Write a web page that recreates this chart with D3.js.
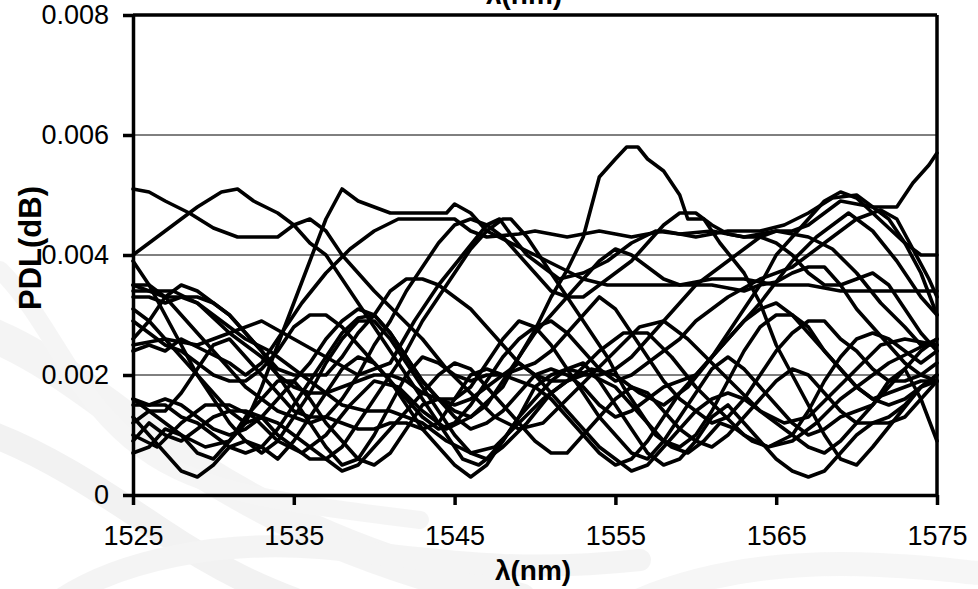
<!DOCTYPE html>
<html>
<head>
<meta charset="utf-8">
<script src="https://cdn.jsdelivr.net/npm/d3@7"></script>
<style>
  html, body { margin: 0; padding: 0; background: #fff; }
  svg { display: block; }
  text { font-family: "Liberation Sans", Arial, sans-serif; fill: #000; }
</style>
</head>
<body>
<svg id="chart" width="978" height="589"></svg>
<script>
// ---------- data ----------
const xTicks = [1525, 1535, 1545, 1555, 1565, 1575];
const yTicks = [0, 0.002, 0.004, 0.006, 0.008];
const yTickLabels = ["0", "0.002", "0.004", "0.006", "0.008"];
const xTitle = "λ(nm)";
const yTitle = "PDL(dB)";

// each series: [wavelength nm, PDL dB]
const s01 = [[1525,0.0051],[1526,0.00505],[1527,0.0049],[1528.5,0.0047],[1530,0.00445],[1531.5,0.0043],[1534,0.0043],[1535,0.0045],[1536,0.0046],[1537,0.0044],[1538,0.0040],[1539,0.0037],[1540,0.0034],[1541.5,0.0030],[1543,0.0026],[1544.5,0.0021],[1546,0.0017],[1547.5,0.0013],[1549,0.0011],[1550.5,0.0012],[1552,0.0016],[1553.5,0.0020],[1555,0.0024],[1556.5,0.0028],[1558,0.0029],[1559.5,0.0026],[1561,0.0022],[1562.5,0.0018],[1564,0.0014],[1565.5,0.0012],[1567,0.0013],[1568.5,0.0017],[1570,0.0021],[1571.5,0.0025],[1573,0.0026],[1575,0.0025]];
const s02 = [[1525,0.0040],[1526,0.0042],[1527.5,0.0045],[1529,0.0048],[1530.5,0.00505],[1531.5,0.0051],[1532.5,0.0049],[1534,0.0047],[1535,0.0045],[1536,0.0042],[1537,0.0040],[1538,0.0036],[1539,0.0032],[1540,0.0028],[1541.5,0.0022],[1543,0.0016],[1544.5,0.0010],[1545.5,0.0006],[1546.5,0.0005],[1548,0.0008],[1549.5,0.0012],[1551,0.0017],[1552.5,0.0020],[1554,0.0024],[1555.5,0.0027],[1557,0.0027],[1558.5,0.0023],[1560,0.0018],[1561.5,0.0014],[1563,0.0010],[1564.5,0.0008],[1566,0.0009],[1567.5,0.0012],[1569,0.0016],[1570.5,0.0019],[1572,0.0022],[1573.5,0.0024],[1575,0.0026]];
const s03 = [[1525,0.0016],[1526.5,0.0013],[1528,0.0010],[1529.5,0.0008],[1531,0.0009],[1532,0.0012],[1533,0.0018],[1534,0.0025],[1535,0.0032],[1536,0.0039],[1537,0.0046],[1538,0.0051],[1539,0.0049],[1540,0.0048],[1541,0.0047],[1544.5,0.0047],[1545,0.00485],[1546,0.0047],[1547,0.0044],[1548.5,0.0042],[1550,0.0040],[1551.5,0.0038],[1553,0.0036],[1554.5,0.0035],[1557,0.0035],[1559,0.0035],[1561,0.0036],[1563,0.0036],[1565,0.0035],[1567,0.0035],[1569,0.0034],[1571,0.0034],[1573,0.0034],[1575,0.0034]];
const s04 = [[1525,0.0024],[1526,0.0025],[1527,0.0024],[1528,0.0026],[1529.5,0.0024],[1531,0.0022],[1532,0.0020],[1533,0.0022],[1534,0.0026],[1535.5,0.0032],[1537,0.0037],[1538.5,0.0041],[1540,0.0044],[1541.5,0.0046],[1545,0.0046],[1546,0.0044],[1547,0.0043],[1549,0.00435],[1550,0.0044],[1552,0.0043],[1554,0.0044],[1556,0.0043],[1558,0.0044],[1560,0.0043],[1562,0.0044],[1564,0.0044],[1565.5,0.0045],[1567,0.0047],[1568.5,0.00495],[1570,0.0050],[1571,0.0048],[1572.5,0.0048],[1573.5,0.0052],[1574.5,0.0055],[1575,0.0057]];
const s05 = [[1525,0.0010],[1526.5,0.0008],[1528,0.0012],[1529.5,0.0015],[1531,0.0015],[1532.5,0.0013],[1534,0.0009],[1535.5,0.0007],[1537,0.0010],[1538.5,0.0015],[1540,0.0019],[1541.5,0.0018],[1543,0.0014],[1544.5,0.0011],[1546,0.0013],[1548,0.0018],[1549,0.0023],[1550,0.00275],[1551,0.0033],[1552,0.00375],[1553,0.0043],[1554,0.0053],[1555,0.0056],[1555.7,0.0058],[1556.4,0.0058],[1557,0.0056],[1558,0.0054],[1559,0.0050],[1559.5,0.0046],[1560.5,0.0046],[1561.5,0.0042],[1563,0.0037],[1564,0.0032],[1565,0.0025],[1566,0.0020],[1567,0.0015],[1568,0.0010],[1569,0.0006],[1570,0.0005],[1571,0.0008],[1572.5,0.0013],[1574,0.0018],[1575,0.0020]];
const s06 = [[1525,0.0035],[1526,0.0034],[1527.5,0.0034],[1529,0.0032],[1530.5,0.0029],[1532,0.0026],[1533.5,0.0024],[1535,0.0021],[1536.5,0.0018],[1538,0.0015],[1539.5,0.0014],[1541,0.0014],[1543,0.0012],[1544.5,0.0009],[1546,0.0007],[1547.5,0.0008],[1549,0.0012],[1550.5,0.0016],[1552,0.0019],[1553.5,0.0021],[1555,0.0020],[1556.5,0.0017],[1558,0.0015],[1559.5,0.0018],[1561,0.0023],[1562.5,0.0029],[1564,0.0035],[1565,0.0040],[1566,0.0043],[1567,0.0046],[1568,0.0049],[1569,0.00505],[1570,0.00495],[1571,0.0047],[1572,0.00445],[1573,0.0042],[1574,0.0040],[1575,0.0040]];
const s07 = [[1525,0.0031],[1526,0.0029],[1527,0.0026],[1528,0.0023],[1529,0.0020],[1530,0.0017],[1531,0.0014],[1532,0.0012],[1533,0.0013],[1534,0.0016],[1535,0.0019],[1536,0.0022],[1537,0.0026],[1538,0.0029],[1539,0.0031],[1540,0.0030],[1541,0.0027],[1542,0.0023],[1543,0.0019],[1544,0.0016],[1545,0.0013],[1546,0.0011],[1547,0.0012],[1548,0.0014],[1549,0.0017],[1550,0.0020],[1551,0.0021],[1552,0.0020],[1553,0.0018],[1554,0.0015],[1555,0.0013],[1556,0.0014],[1557,0.0016],[1558,0.0018],[1560,0.0020],[1562,0.0026],[1564,0.0032],[1566,0.0039],[1567.5,0.0043],[1569.5,0.0047],[1571,0.0044],[1572.5,0.0039],[1574,0.0033],[1575,0.0030]];
const s08 = [[1525,0.0029],[1526,0.0027],[1527,0.0025],[1528,0.0024],[1529,0.0022],[1530,0.0020],[1531,0.0019],[1532,0.0019],[1533,0.0021],[1534,0.0024],[1535,0.0028],[1536,0.0030],[1537,0.0030],[1538,0.0028],[1539,0.0025],[1540,0.0022],[1541,0.0019],[1542,0.0016],[1543,0.0013],[1544,0.0011],[1545,0.0012],[1546,0.0015],[1547,0.0019],[1548,0.0023],[1549,0.0026],[1550,0.0028],[1551,0.0029],[1552,0.0027],[1553,0.0024],[1554,0.0021],[1555,0.0019],[1556,0.0020],[1557,0.0022],[1558,0.0024],[1559,0.0026],[1560,0.0029],[1562,0.0033],[1564,0.0036],[1566,0.0038],[1568,0.0042],[1570,0.0046],[1571.5,0.00475],[1572.5,0.0046],[1573.5,0.0041],[1574.5,0.0036],[1575,0.0033]];
const s09 = [[1525,0.0039],[1526,0.0035],[1527,0.0030],[1528,0.0025],[1529,0.0020],[1530,0.0016],[1531,0.0012],[1532,0.0009],[1533,0.0007],[1534,0.0009],[1535,0.0013],[1536,0.0017],[1537,0.0022],[1538,0.0026],[1539,0.0029],[1540,0.0029],[1541,0.0026],[1542,0.0022],[1543,0.0018],[1544,0.0014],[1545,0.0010],[1546,0.0007],[1547,0.0006],[1548,0.0009],[1549,0.0013],[1550,0.0018],[1551,0.0020],[1552,0.0021],[1553.5,0.0020],[1555,0.0018],[1556,0.0015],[1557,0.0012],[1558,0.0009],[1559,0.0008],[1560,0.0010],[1561,0.0014],[1562,0.0019],[1563,0.0024],[1564,0.0028],[1565,0.0030],[1566,0.0030],[1567,0.0028],[1568,0.0024],[1569,0.0021],[1570,0.0018],[1571,0.0016],[1572,0.0015],[1573,0.0016],[1574,0.0018],[1575,0.0019]];
const s10 = [[1525,0.0033],[1526,0.0033],[1527,0.0032],[1528,0.0033],[1529,0.0032],[1530,0.00295],[1531,0.0027],[1532,0.0025],[1533,0.0023],[1534,0.0020],[1535,0.0018],[1536,0.0017],[1537,0.0017],[1538,0.0018],[1539,0.0019],[1540,0.0020],[1541,0.0020],[1542,0.0019],[1543,0.0017],[1544,0.0016],[1545,0.0015],[1546,0.0016],[1547,0.0018],[1548,0.0020],[1549,0.0022],[1550,0.0020],[1551,0.0017],[1552,0.0014],[1553,0.0011],[1554,0.0008],[1555,0.0006],[1556,0.0004],[1557,0.0005],[1558,0.0008],[1559,0.0011],[1560,0.0014],[1561,0.0016],[1562,0.0017],[1563,0.0016],[1564,0.0014],[1565,0.0012],[1566,0.0010],[1567,0.0008],[1568,0.0007],[1569,0.0009],[1570,0.0012],[1571,0.0015],[1572,0.0018],[1573,0.0021],[1574,0.0024],[1575,0.0026]];
const s11 = [[1525,0.0009],[1526,0.0012],[1527,0.0010],[1528,0.0009],[1529,0.0011],[1530,0.0013],[1531,0.0014],[1532,0.0014],[1533,0.0013],[1534,0.0010],[1535,0.0008],[1536,0.0006],[1537,0.0006],[1538,0.0008],[1539,0.0012],[1540,0.0016],[1541,0.0020],[1542,0.0024],[1543,0.0029],[1544,0.0033],[1545,0.0037],[1546,0.0041],[1547,0.0044],[1548,0.0046],[1548.5,0.0046],[1549.5,0.0043],[1550.5,0.0039],[1551.5,0.0035],[1552.5,0.0031],[1553.5,0.0027],[1554.5,0.0023],[1555.5,0.0018],[1556.5,0.0014],[1557.5,0.0010],[1558.5,0.0008],[1559.5,0.0007],[1560.5,0.0009],[1561.5,0.0012],[1562.5,0.0011],[1563.5,0.0009],[1564.5,0.0008],[1566,0.0010],[1567,0.0014],[1568,0.0019],[1569,0.0023],[1570,0.0026],[1571,0.0027],[1572,0.0026],[1573,0.0024],[1574,0.0022],[1575,0.0024]];
const s12 = [[1525,0.0015],[1526,0.0015],[1527,0.0015],[1528,0.0013],[1529,0.0012],[1530,0.0010],[1531,0.0008],[1532,0.0007],[1533,0.0008],[1534,0.0011],[1535,0.0015],[1536,0.0019],[1537,0.0023],[1538,0.0027],[1539,0.00295],[1540,0.0030],[1541,0.0027],[1542,0.0023],[1543,0.0019],[1544,0.0016],[1545,0.0014],[1546,0.0013],[1547,0.0015],[1548,0.0019],[1549,0.0023],[1550,0.0027],[1551,0.0030],[1552,0.0033],[1553,0.0036],[1554,0.0039],[1555,0.0041],[1556,0.0040],[1557,0.0038],[1558,0.0036],[1559,0.0035],[1560,0.0035],[1561,0.0035],[1562,0.00345],[1563,0.0034],[1564,0.0035],[1565,0.00355],[1566,0.0037],[1567,0.0038],[1568,0.0038],[1569,0.0035],[1570,0.0031],[1571,0.0028],[1572,0.0025],[1573,0.0022],[1574,0.0020],[1575,0.0019]];
const s13 = [[1525,0.0007],[1526,0.0008],[1527,0.0011],[1528,0.0010],[1529,0.0007],[1530,0.0006],[1531,0.0009],[1532,0.0013],[1533,0.0016],[1534,0.0019],[1535,0.0019],[1536,0.0016],[1537,0.0012],[1538,0.0009],[1539,0.0006],[1540,0.0005],[1541,0.0007],[1542,0.0011],[1543,0.0015],[1544,0.0016],[1545,0.0016],[1546,0.0018],[1547,0.0022],[1548,0.0026],[1549,0.0029],[1550,0.0028],[1551,0.0025],[1552,0.0021],[1553,0.0017],[1554,0.0013],[1555,0.0010],[1556,0.0007],[1557,0.0006],[1558,0.0009],[1559,0.0013],[1560,0.0017],[1561,0.0021],[1562,0.0023],[1563,0.0021],[1564,0.0018],[1565,0.0015],[1566,0.0012],[1567,0.0010],[1568,0.0011],[1569,0.0013],[1570,0.0014],[1571,0.0015],[1572,0.0019],[1573,0.0021],[1574,0.0016],[1575,0.0009]];
const s14 = [[1525,0.0013],[1526,0.0010],[1527,0.0007],[1528,0.0004],[1529,0.0003],[1530,0.0005],[1531,0.0008],[1532,0.0009],[1533,0.0008],[1534,0.0006],[1535,0.0009],[1536,0.0013],[1537,0.0017],[1538,0.0021],[1539,0.0023],[1540,0.0022],[1541,0.0019],[1542,0.0015],[1543,0.0011],[1544,0.0008],[1545,0.0005],[1546,0.0003],[1547,0.0005],[1548,0.0009],[1549,0.0013],[1550,0.0016],[1551,0.0019],[1552,0.0021],[1553,0.0022],[1554,0.0019],[1555,0.0015],[1556,0.0011],[1557,0.0007],[1558,0.0005],[1559,0.0006],[1560,0.0009],[1561,0.0013],[1562,0.0015],[1563,0.0012],[1564,0.0009],[1565,0.0006],[1566,0.0004],[1567,0.0003],[1568,0.0004],[1569,0.0007],[1570,0.0010],[1571,0.0012],[1572,0.0013],[1573,0.0015],[1574,0.0018],[1575,0.0020]];
const s15 = [[1525,0.0025],[1527,0.0026],[1529,0.0025],[1531,0.0027],[1533,0.0029],[1535,0.0026],[1537,0.0023],[1539,0.0020],[1541,0.0022],[1542.5,0.0029],[1544,0.0035],[1545.5,0.0040],[1547,0.0045],[1547.8,0.0046],[1548.6,0.0043],[1549.5,0.0040],[1550.5,0.0038],[1551.5,0.0036],[1553,0.0037],[1554.5,0.0039],[1556,0.0042],[1557.5,0.0044],[1559,0.00435],[1561,0.0044],[1563,0.0043],[1565,0.0044],[1567,0.0043],[1568.5,0.0041],[1570,0.0037],[1571.5,0.0032],[1573,0.0028],[1574,0.0025],[1575,0.0025]];
const s16 = [[1525,0.0034],[1526,0.0034],[1527,0.0033],[1528,0.0030],[1529,0.0027],[1530,0.0024],[1531,0.0021],[1532,0.0018],[1533,0.0016],[1534,0.0014],[1535,0.0013],[1536,0.0012],[1537,0.0013],[1538,0.0016],[1539,0.0020],[1540,0.0025],[1541,0.0029],[1542,0.0034],[1543,0.0038],[1544,0.0042],[1545,0.0045],[1546,0.0046],[1547,0.0045],[1548,0.0043],[1549,0.0040],[1550,0.0037],[1551,0.0034],[1552,0.0033],[1553,0.0033],[1554,0.0035],[1555,0.0037],[1556,0.0039],[1557,0.0042],[1558,0.0045],[1559,0.0047],[1560,0.0047],[1561,0.0045],[1562,0.00435],[1563,0.0043],[1564,0.0043],[1565,0.0042],[1566,0.0040],[1567,0.0037],[1568,0.0035],[1569,0.0035],[1570,0.0036],[1571,0.0037],[1572,0.0035],[1573,0.0031],[1574,0.0027],[1575,0.0024]];
const s17 = [[1525,0.0026],[1526,0.0029],[1527,0.0033],[1528,0.0035],[1529,0.0034],[1530,0.0032],[1531,0.0030],[1532,0.0027],[1533,0.0024],[1534,0.0020],[1535,0.0016],[1536,0.0012],[1537,0.0008],[1538,0.0005],[1539,0.0006],[1540,0.0010],[1541,0.0015],[1542,0.0020],[1543,0.0023],[1544,0.0022],[1545,0.0020],[1546,0.0019],[1547,0.0020],[1548,0.0020],[1549,0.0021],[1550,0.0022],[1551,0.0024],[1552,0.0027],[1553,0.0030],[1554,0.0033],[1555,0.0031],[1556,0.0027],[1557,0.0023],[1558,0.0019],[1559,0.0016],[1560,0.0014],[1561,0.0012],[1562,0.0013],[1563,0.0016],[1564,0.0020],[1565,0.0024],[1566,0.0027],[1567,0.0029],[1568,0.0029],[1569,0.0026],[1570,0.0024],[1571,0.0021],[1572,0.0019],[1573,0.0019],[1574,0.0020],[1575,0.0022]];
const s18 = [[1525,0.0012],[1526,0.0014],[1527,0.0014],[1528,0.0017],[1529,0.0021],[1530,0.0025],[1531,0.0026],[1532,0.0023],[1533,0.0020],[1534,0.0017],[1535,0.0014],[1536,0.0013],[1537,0.0013],[1538,0.0012],[1539,0.0011],[1540,0.0011],[1541,0.0012],[1542,0.0012],[1543,0.0011],[1544,0.0012],[1545,0.0016],[1546,0.0020],[1547,0.0021],[1548,0.0020],[1549,0.0019],[1550,0.0018],[1551,0.0016],[1552,0.0013],[1553,0.0010],[1554,0.0007],[1555,0.0005],[1556,0.0006],[1557,0.0009],[1558,0.0013],[1559,0.0017],[1560,0.0020],[1561,0.0023],[1562,0.0026],[1563,0.0029],[1564,0.0031],[1565,0.0032],[1566,0.0030],[1567,0.0027],[1568,0.0024],[1569,0.0021],[1570,0.0018],[1571,0.0016],[1572,0.0017],[1573,0.0018],[1574,0.0019],[1575,0.0019]];
const s19 = [[1525,0.0035],[1526,0.0035],[1527,0.0033],[1528,0.0033],[1529,0.0033],[1530,0.0032],[1531,0.0030],[1532,0.0027],[1533,0.0024],[1534,0.0021],[1535,0.0020],[1536,0.0020],[1537,0.0020],[1538,0.0023],[1539,0.0027],[1540,0.0030],[1541,0.0034],[1542,0.0036],[1543,0.0036],[1544,0.0035],[1545,0.0033],[1546,0.0031],[1547,0.0028],[1548,0.0025],[1549,0.0022],[1550,0.0020],[1551,0.0019],[1552,0.0019],[1553,0.0020],[1554,0.0020],[1555,0.0021],[1556,0.0023],[1557,0.0026],[1558,0.0029],[1559,0.0032],[1560,0.0035],[1561,0.0037],[1562,0.0039],[1563,0.0041],[1564,0.0043],[1565,0.0044],[1566,0.0044],[1567,0.0045],[1568,0.0047],[1569,0.0049],[1570,0.00485],[1571,0.0048],[1572,0.0046],[1573,0.0042],[1574,0.0037],[1575,0.0030]];
const s20 = [[1525,0.0016],[1526,0.0015],[1527,0.0016],[1528,0.0015],[1529,0.0013],[1530,0.0011],[1531,0.0010],[1532,0.0011],[1533,0.0013],[1534,0.0012],[1535,0.0010],[1536,0.0008],[1537,0.0006],[1538,0.0004],[1539,0.0005],[1540,0.0008],[1541,0.0011],[1542,0.0014],[1543,0.0017],[1544,0.0020],[1545,0.0022],[1546,0.0021],[1547,0.0018],[1548,0.0015],[1549,0.0012],[1550,0.0009],[1551,0.0007],[1552,0.0007],[1553,0.0010],[1554,0.0013],[1555,0.0016],[1556,0.0018],[1557,0.0017],[1558,0.0014],[1559,0.0011],[1560,0.0009],[1561,0.0008],[1562,0.0010],[1563,0.0013],[1564,0.0016],[1565,0.0019],[1566,0.0021],[1567,0.0020],[1568,0.0017],[1569,0.0014],[1570,0.0012],[1571,0.0012],[1572,0.0012],[1573,0.0013],[1574,0.0016],[1575,0.0019]];
const seriesList = [s01,s02,s03,s04,s05,s06,s07,s08,s09,s10,s11,s12,s13,s14,s15,s16,s17,s18,s19,s20];

// ---------- layout ----------
const plot = { left: 133, right: 937, top: 15, bottom: 495 };
const svg = d3.select("#chart");

// very faint decorative background texture (lower left / bottom)
const bg = svg.append("g").attr("fill", "none").attr("opacity", 0.55);
const swirls = [
  {d: "M -20 330 C 60 360, 120 420, 200 470 S 360 560, 520 600", w: 34, c: "#ececec"},
  {d: "M -20 430 C 40 450, 100 490, 160 530 S 260 589, 320 610", w: 26, c: "#e8e8e8"},
  {d: "M 0 270 C 50 320, 70 390, 130 440 S 260 500, 420 520", w: 18, c: "#eeeeee"},
  {d: "M 60 600 C 120 560, 220 540, 320 548 S 500 575, 640 560", w: 22, c: "#ececec"},
  {d: "M 640 600 C 700 575, 780 560, 880 565 S 960 575, 1000 572", w: 24, c: "#efefef"}
];
bg.selectAll("path").data(swirls).join("path")
  .attr("d", d => d.d)
  .attr("stroke", d => d.c)
  .attr("stroke-width", d => d.w)
  .attr("stroke-linecap", "round");

const x = d3.scaleLinear().domain([1525, 1575]).range([plot.left, plot.right]);
const y = d3.scaleLinear().domain([0, 0.008]).range([plot.bottom, plot.top]);

// gridlines
svg.append("g").selectAll("line").data(yTicks.filter(v => v > 0 && v < 0.008)).join("line")
  .attr("x1", plot.left).attr("x2", plot.right)
  .attr("y1", d => y(d)).attr("y2", d => y(d))
  .attr("stroke", "#000").attr("stroke-width", 1);

// series
const line = d3.line().x(d => x(d[0])).y(d => y(d[1]));
svg.append("g").selectAll("path").data(seriesList).join("path")
  .attr("d", line)
  .attr("fill", "none")
  .attr("stroke", "#000")
  .attr("stroke-width", 3.6)
  .attr("stroke-linejoin", "round")
  .attr("stroke-linecap", "round");

// frame (top and right)
svg.append("line").attr("x1", plot.left).attr("x2", plot.right).attr("y1", plot.top).attr("y2", plot.top)
  .attr("stroke", "#000").attr("stroke-width", 3.5);
svg.append("line").attr("x1", plot.right).attr("x2", plot.right).attr("y1", plot.top).attr("y2", plot.bottom)
  .attr("stroke", "#000").attr("stroke-width", 3.5);

// axes
const yAxis = d3.axisLeft(y).tickValues(yTicks).tickFormat((d, i) => yTickLabels[i]).tickSizeInner(10).tickSizeOuter(0).tickPadding(14);
const gy = svg.append("g").attr("transform", `translate(${plot.left},0)`).call(yAxis);
const xAxis = d3.axisBottom(x).tickValues(xTicks).tickFormat(d3.format("d")).tickSizeInner(10).tickSizeOuter(0).tickPadding(21);
const gx = svg.append("g").attr("transform", `translate(0,${plot.bottom})`).call(xAxis);
[gx, gy].forEach(g => {
  g.select(".domain").attr("stroke", "#000").attr("stroke-width", 3.5);
  g.selectAll(".tick line").attr("stroke", "#000").attr("stroke-width", 3.5);
  g.selectAll(".tick text").attr("font-family", "'Liberation Sans', Arial, sans-serif").attr("font-size", 27).attr("fill", "#000");
});

// titles
svg.append("text").attr("x", 524).attr("y", 4).attr("text-anchor", "middle")
  .attr("font-size", 28).attr("font-weight", "bold").text(xTitle);
svg.append("text").attr("x", 533).attr("y", 580).attr("text-anchor", "middle")
  .attr("font-size", 28).attr("font-weight", "bold").text(xTitle);
svg.append("text").attr("transform", `translate(41,248) rotate(-90)`).attr("text-anchor", "middle")
  .attr("font-size", 31).attr("font-weight", "bold").text(yTitle);
</script>
</body>
</html>
